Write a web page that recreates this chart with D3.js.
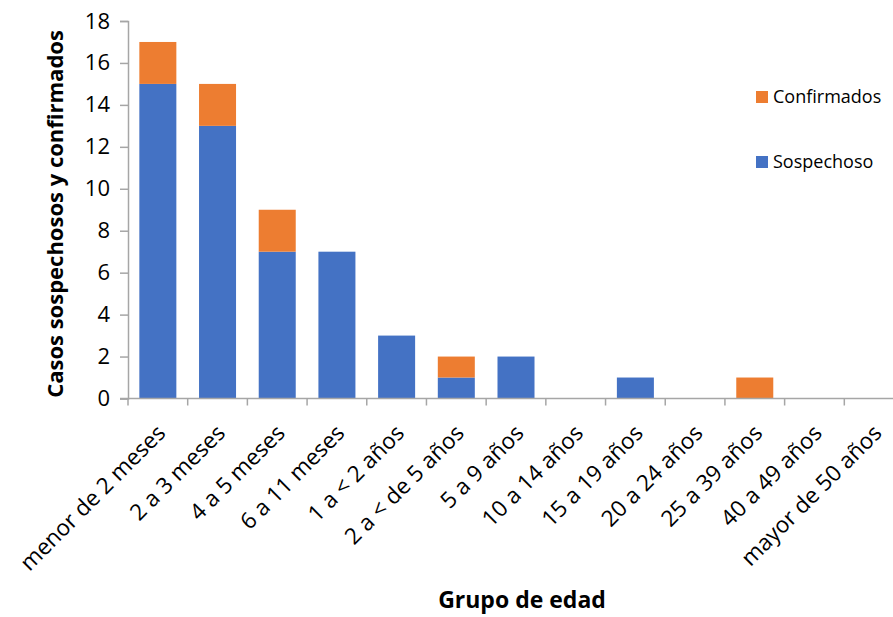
<!DOCTYPE html>
<html>
<head>
<meta charset="utf-8">
<script src="https://cdn.jsdelivr.net/npm/d3@7"></script>
<style>
  body { margin: 0; background: #fff; }
  svg { display: block; font-family: "Open Sans", sans-serif; }
</style>
</head>
<body>
<svg id="chart" width="893" height="617"></svg>
<script>
var categories = ["menor de 2 meses", "2 a 3 meses", "4 a 5 meses", "6 a 11 meses",
    "1 a < 2 años", "2 a < de 5 años", "5 a 9 años", "10 a 14 años", "15 a 19 años",
    "20 a 24 años", "25 a 39 años", "40 a 49 años", "mayor de 50 años"];
var sospechoso = [15, 13, 7, 7, 3, 1, 2, 0, 1, 0, 0, 0, 0];
var confirmados = [2, 2, 2, 0, 0, 1, 0, 0, 0, 0, 1, 0, 0];
var yTicks = [0, 2, 4, 6, 8, 10, 12, 14, 16, 18];

var seriesNames = ["Sospechoso", "Confirmados"];
var colours = { "Sospechoso": "#4472c4", "Confirmados": "#ed7d31" };

var svg = d3.select("#chart");
var axisColour = "#a6a6a6";

var plot = { left: 128, right: 904, top: 21, bottom: 398.5 };

var x = d3.scaleBand()
    .domain(categories)
    .range([plot.left, plot.right])
    .paddingInner(0.38)
    .paddingOuter(0.19);

var y = d3.scaleLinear()
    .domain([0, 18])
    .range([plot.bottom, plot.top]);

var rows = categories.map(function(c, i) {
    return { cat: c, Sospechoso: sospechoso[i], Confirmados: confirmados[i] };
});
var stacked = d3.stack().keys(seriesNames)(rows);

// bars
svg.append("g").selectAll("g")
    .data(stacked)
  .enter()
    .append("g")
    .attr("fill", function(d) { return colours[d.key]; })
  .selectAll("rect")
    .data(function(d) { return d; })
  .enter()
    .append("rect")
    .attr("x", function(d) { return x(d.data.cat); })
    .attr("width", x.bandwidth())
    .attr("y", function(d) { return y(d[1]); })
    .attr("height", function(d) { return y(d[0]) - y(d[1]); });

// y axis
var yAxis = svg.append("g")
    .attr("transform", "translate(" + plot.left + ",0)")
    .call(d3.axisLeft(y).tickValues(yTicks).tickSize(8).tickPadding(10));
yAxis.select(".domain").attr("stroke", axisColour).attr("stroke-width", 1.5);
yAxis.selectAll(".tick line").attr("stroke", axisColour).attr("stroke-width", 1.5);
yAxis.selectAll(".tick text")
    .attr("fill", "#000")
    .attr("font-size", "22px")
    .attr("font-family", "'Open Sans', sans-serif");

// x axis line with ticks at category boundaries
var step = x.step();
var boundaries = d3.range(categories.length + 1).map(function(i) {
    return plot.left + i * step;
});
var xAxis = svg.append("g");
xAxis.append("line")
    .attr("x1", plot.left - 8).attr("x2", plot.right)
    .attr("y1", plot.bottom).attr("y2", plot.bottom)
    .attr("stroke", axisColour).attr("stroke-width", 1.5);
xAxis.selectAll(".btick")
    .data(boundaries)
  .enter()
    .append("line")
    .attr("class", "btick")
    .attr("x1", function(d) { return d; }).attr("x2", function(d) { return d; })
    .attr("y1", plot.bottom).attr("y2", plot.bottom + 7)
    .attr("stroke", axisColour).attr("stroke-width", 1.5);

xAxis.selectAll(".clabel")
    .data(categories)
  .enter()
    .append("text")
    .attr("class", "clabel")
    .attr("text-anchor", "end")
    .attr("font-size", "22.5px")
    .attr("transform", function(d) {
        var cx = x(d) + x.bandwidth() / 2 + 9;
        return "translate(" + cx + "," + (plot.bottom + 36) + ") rotate(-45)";
    })
    .text(function(d) { return d; });

// axis titles
svg.append("text")
    .attr("x", 522).attr("y", 608)
    .attr("text-anchor", "middle")
    .attr("font-weight", "bold")
    .attr("font-size", "23px")
    .text("Grupo de edad");

svg.append("text")
    .attr("transform", "translate(63,214) rotate(-90)")
    .attr("text-anchor", "middle")
    .attr("font-weight", "bold")
    .attr("font-size", "22px")
    .text("Casos sospechosos y confirmados");

// legend
var legendItems = ["Confirmados", "Sospechoso"];
var legend = svg.append("g").selectAll("g")
    .data(legendItems)
  .enter()
    .append("g")
    .attr("transform", function(d, i) { return "translate(756," + (91 + i * 65) + ")"; });
legend.append("rect")
    .attr("width", 12).attr("height", 12)
    .attr("fill", function(d) { return colours[d]; });
legend.append("text")
    .attr("x", 17).attr("y", 6)
    .attr("dy", "0.35em")
    .attr("font-size", "18px")
    .text(function(d) { return d; });
</script>
</body>
</html>
